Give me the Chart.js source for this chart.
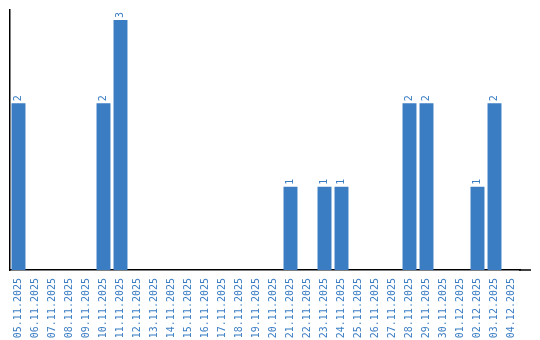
<!DOCTYPE html>
<html>
<head>
<meta charset="utf-8">
<script src="https://cdn.jsdelivr.net/npm/chart.js@4"></script>
<style>
  body { margin: 0; background: #fff; }
  #wrap { width: 540px; height: 340px; }
</style>
</head>
<body>
<div id="wrap"><canvas id="countChart"></canvas></div>
<script>
// dates shown on the x axis
const days = [
  '05.11.2025', '06.11.2025', '07.11.2025', '08.11.2025', '09.11.2025',
  '10.11.2025', '11.11.2025', '12.11.2025', '13.11.2025', '14.11.2025',
  '15.11.2025', '16.11.2025', '17.11.2025', '18.11.2025', '19.11.2025',
  '20.11.2025', '21.11.2025', '22.11.2025', '23.11.2025', '24.11.2025',
  '25.11.2025', '26.11.2025', '27.11.2025', '28.11.2025', '29.11.2025',
  '30.11.2025', '01.12.2025', '02.12.2025', '03.12.2025', '04.12.2025'
];
// count per day
const counts = [2, 0, 0, 0, 0, 2, 3, 0, 0, 0, 0, 0, 0, 0, 0, 0, 1, 0, 1, 1, 0, 0, 0, 2, 2, 0, 0, 1, 2, 0];

const blue = '#3b7dc3';
const monoFont = '"DejaVu Sans Mono", "Liberation Mono", monospace';

// draws the value above each bar, rotated; also runs the x axis line a bit past the last day
const valueLabels = {
  id: 'valueLabels',
  afterDatasetsDraw(chart) {
    const ctx = chart.ctx;
    const area = chart.chartArea;
    const meta = chart.getDatasetMeta(0);
    ctx.save();
    ctx.strokeStyle = '#000';
    ctx.lineWidth = 1.5;
    ctx.beginPath();
    ctx.moveTo(area.right - 1, area.bottom);
    ctx.lineTo(area.right + 11, area.bottom);
    ctx.stroke();

    ctx.fillStyle = blue;
    ctx.font = '10px ' + monoFont;
    ctx.textAlign = 'left';
    ctx.textBaseline = 'middle';
    meta.data.forEach((bar, i) => {
      if (!counts[i]) return;
      ctx.save();
      ctx.translate(bar.x, bar.y - 2);
      ctx.rotate(-Math.PI / 2);
      ctx.fillText(String(counts[i]), 0, 0);
      ctx.restore();
    });
    ctx.restore();
  }
};

const ctx = document.getElementById('countChart').getContext('2d');
const countChart = new Chart(ctx, {
  type: 'bar',
  data: {
    labels: days,
    datasets: [{
      data: counts,
      backgroundColor: blue,
      barPercentage: 0.82,
      categoryPercentage: 1
    }]
  },
  options: {
    responsive: true,
    maintainAspectRatio: false,
    animation: false,
    layout: { padding: { left: 10, top: 10, right: 20, bottom: 0 } },
    plugins: {
      legend: { display: false },
      tooltip: { enabled: false }
    },
    scales: {
      x: {
        grid: { display: false },
        border: { display: true, color: '#000', width: 1.5 },
        afterFit(scale) { scale.height = 70; },
        ticks: {
          color: blue,
          font: { family: monoFont, size: 10 },
          maxRotation: 90,
          minRotation: 90,
          autoSkip: false,
          padding: 0
        }
      },
      y: {
        min: 0,
        max: 3.12,
        grid: { display: false, drawTicks: false },
        border: { display: true, color: '#000', width: 1.5 },
        ticks: { display: false }
      }
    }
  },
  plugins: [valueLabels]
});
</script>
</body>
</html>
